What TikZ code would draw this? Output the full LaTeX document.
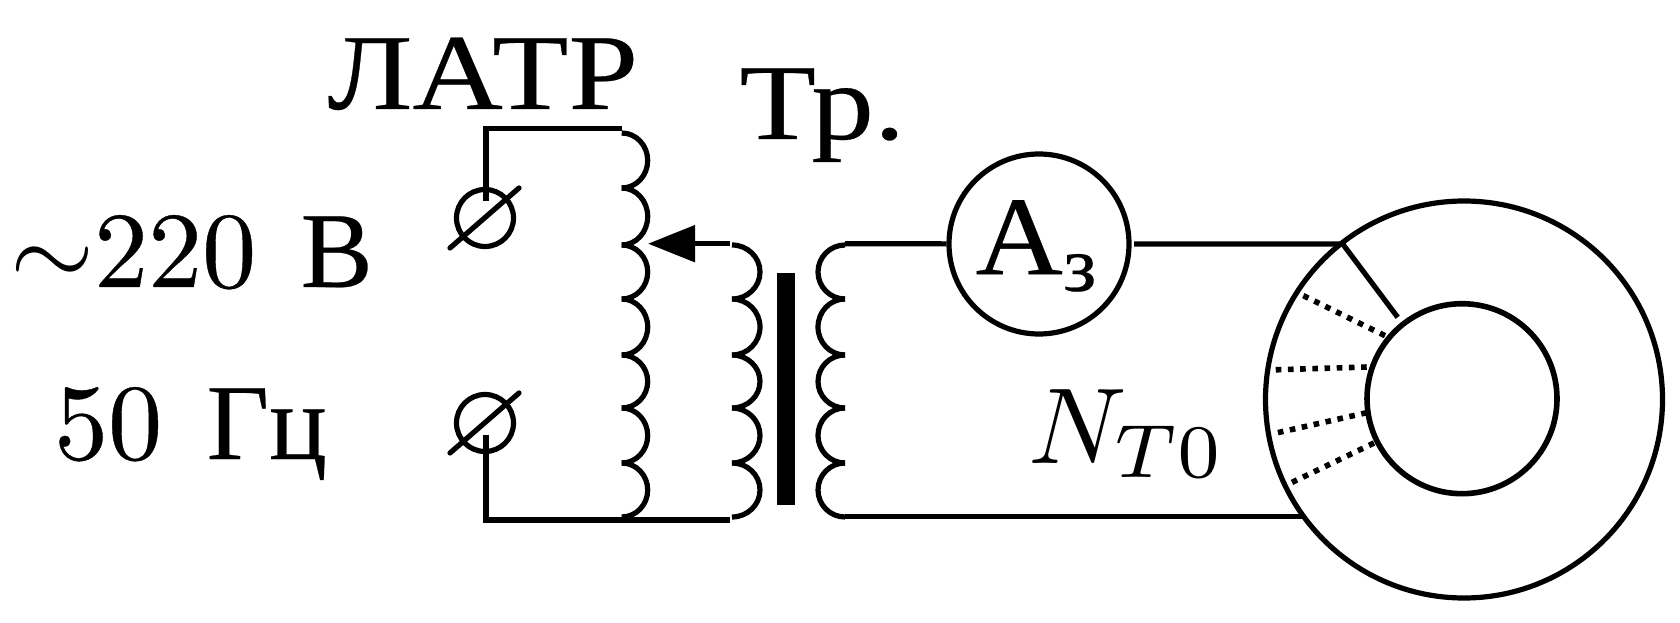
\documentclass[tikz,border=0pt]{standalone}
\usepackage{fontspec}
\setmainfont[FakeBold=0.35]{Latin Modern Roman}
\newfontfamily\cyr[FakeBold=0.25]{Liberation Serif}
\usetikzlibrary{arrows.meta}
\tikzset{
	wire/.style={line width=2.6pt},
	dots/.style={line width=2.8pt,dash pattern=on 2.8pt off 3.3pt},
	txt/.style={anchor=base west,inner sep=0pt,scale=5.4},
	term/.style={circle,draw,line width=2.6pt,inner sep=0pt,minimum size=28.5pt}
}
\begin{document}
\begin{tikzpicture}[x=0.5pt,y=0.5pt]
	\useasboundingbox (0,0) rectangle (1680,622);
	%% labels
	\node[txt,xscale=1.16] (latr) at (325,513) {\cyr ЛАТР};
	\node[txt,xscale=1.16] (tr) at (737,483) {\cyr Тр.};
	\node[txt] (volt) at (8,335) {$\sim$220\kern0.8pt\ {\cyr В}};
	\node[txt] (freq) at (52,163) {50\kern0.8pt\ {\cyr Гц}};
	\node[txt] (nt) at (1026,159) {$N_{\raisebox{0.9pt}{$\scriptstyle T0$}}$};
	%% source terminals
	\node[term] (t1) at (485,404) {};
	\node[term] (t2) at (485,199) {};
	\coordinate (s1a) at (450,374);
	\coordinate (s1b) at (519,434);
	\coordinate (s2a) at (450,169);
	\coordinate (s2b) at (519,229);
	\draw[wire,line cap=round] (s1a) -- (s1b);
	\draw[wire,line cap=round] (s2a) -- (s2b);
	\coordinate (w1) at (486,421);
	\coordinate (w2) at (486,493.3);
	\coordinate (w3) at (621.7,493.3);
	\coordinate (w4) at (486,187);
	\coordinate (w5) at (486,102);
	\coordinate (w6) at (730,102);
	\draw[wire] (w1) -- (w2) -- (w3);
	\draw[wire] (w4) -- (w5) -- (w6);
	%% coils
	\foreach \ya/\yb in {489/434,434/377,377/323,323/267,267/214,214/159,159/105}{
		\draw[wire] (621.7,\ya) arc[start angle=90,end angle=-90,x radius=26,y radius={(\ya-\yb)/2}];
	}
	\foreach \ya/\yb in {377/323,323/267,267/214,214/159,159/105}{
		\draw[wire] (732,\ya) arc[start angle=90,end angle=-90,x radius=28,y radius={(\ya-\yb)/2}];
		\draw[wire] (845,\ya) arc[start angle=90,end angle=270,x radius=27,y radius={(\ya-\yb)/2}];
	}
	%% core and slider
	\node[fill,inner sep=0pt,minimum width=9pt,minimum height=116pt] (core) at (786,233) {};
	\coordinate (p1) at (730,378.3);
	\coordinate (p2) at (648,378.3);
	\draw[wire,-{Triangle[length=23.5pt,width=18pt]}] (p1) -- (p2);
	%% ammeter and winding
	\node[circle,draw,line width=2.6pt,inner sep=0pt,minimum size=90pt] (am) at (1039,378) {};
	\node[anchor=center,inner sep=0pt,scale=5.6,xscale=1.08] (amt) at (1039,376) {\cyr А$_{\mbox{\cyr\scriptsize з}}$};
	\node[circle,draw,line width=2.6pt,inner sep=0pt,minimum size=198.5pt] (outer) at (1464,222.5) {};
	\node[circle,draw,line width=2.8pt,inner sep=0pt,minimum size=95pt] (inner) at (1462,223.3) {};
	\coordinate (c1) at (845,378.3);
	\coordinate (c2) at (1134,378);
	\coordinate (c3) at (1342.7,378);
	\coordinate (c4) at (1397.7,304.7);
	\coordinate (c5) at (845,105.5);
	\coordinate (c6) at (1303,105.5);
	\draw[wire] (c1) -- (am);
	\draw[wire] (c2) -- (c3) -- (c4);
	\draw[wire] (c5) -- (c6);
	%% turns, dotted
	\coordinate (d1) at (1298,329);
	\coordinate (d2) at (1385,286.3);
	\coordinate (d3) at (1269,252);
	\coordinate (d4) at (1366.7,255);
	\coordinate (d5) at (1271.7,188);
	\coordinate (d6) at (1366.7,209.3);
	\coordinate (d7) at (1290.7,139);
	\coordinate (d8) at (1374,179);
	\draw[dots] (d2) -- (d1);
	\draw[dots] (d4) -- (d3);
	\draw[dots] (d6) -- (d5);
	\draw[dots] (d8) -- (d7);
\end{tikzpicture}
\end{document}
